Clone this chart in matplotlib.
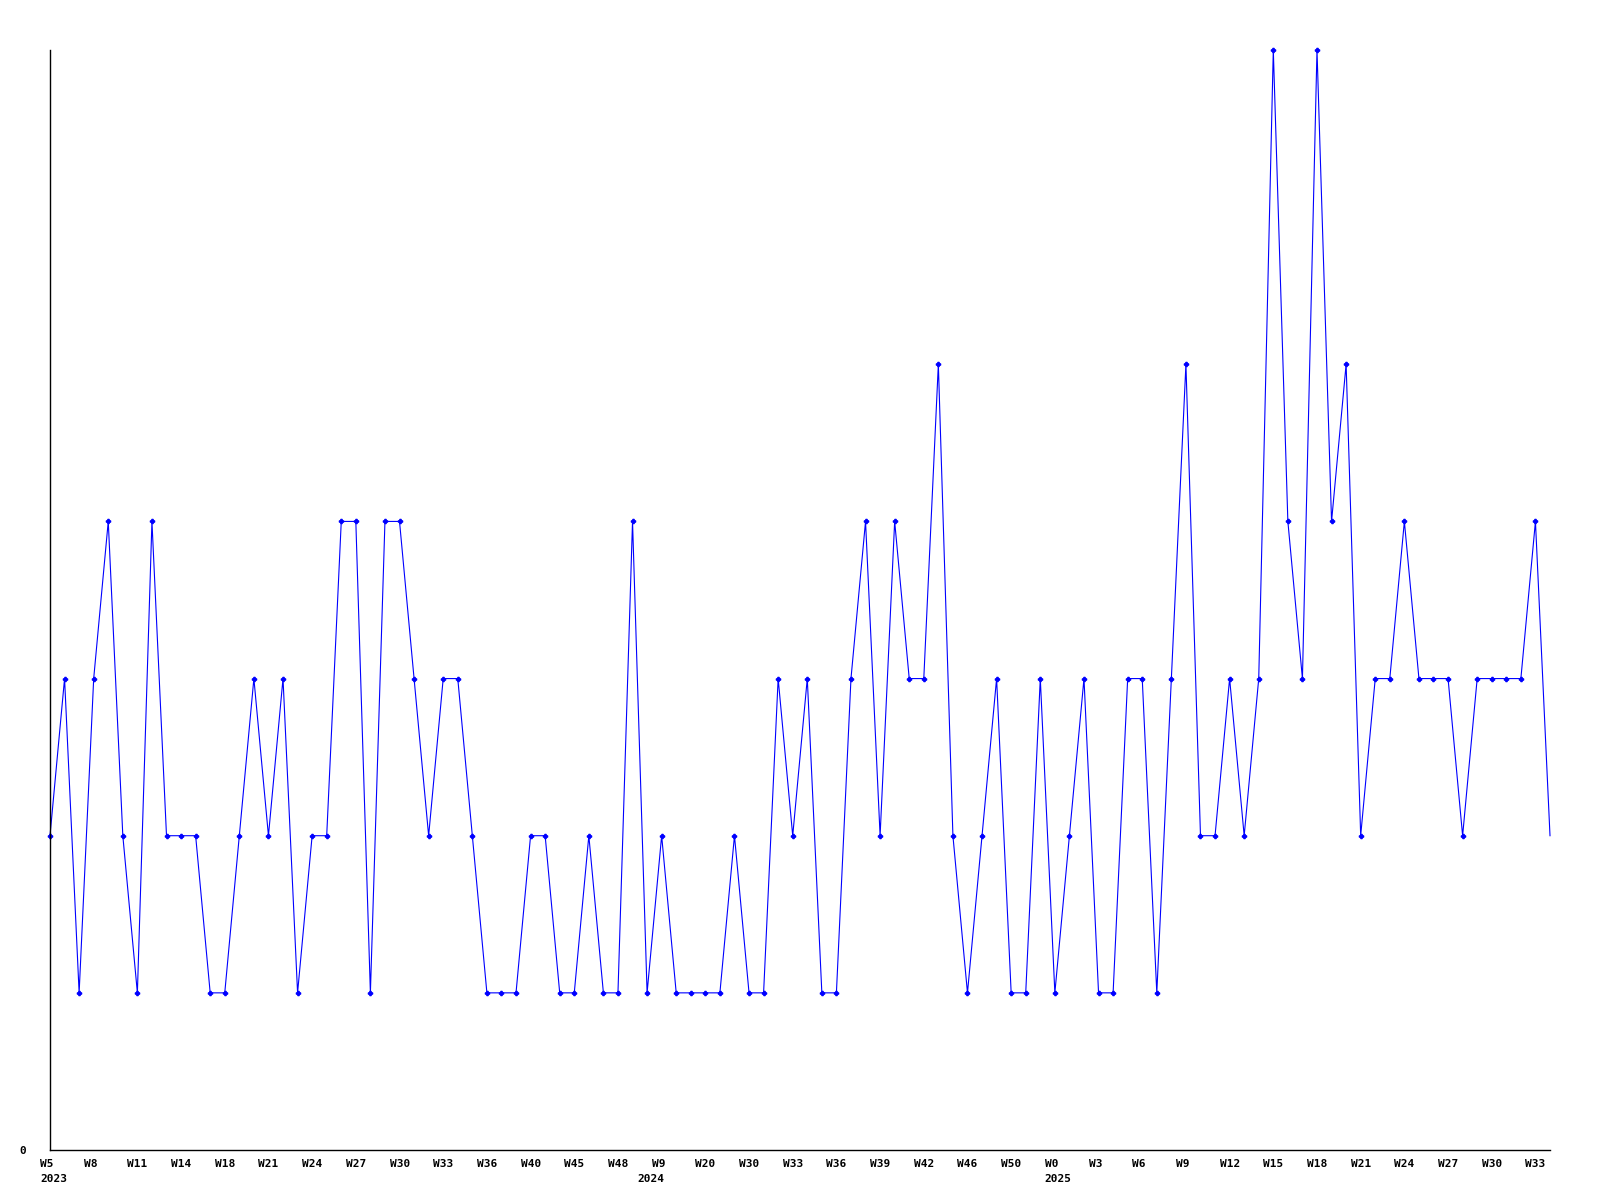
"""
plot.py — weekly count line chart (2023 W5 .. 2025 W33).
"""

import matplotlib
matplotlib.use("Agg")
import matplotlib.pyplot as plt
import matplotlib.transforms as mtransforms
import numpy as np

# ---------------------------------------------------------------------------
# Data
# ---------------------------------------------------------------------------

counts = [
    2, 3, 1, 3, 4, 2, 1, 4, 2, 2,
    2, 1, 1, 2, 3, 2, 3, 1, 2, 2,
    4, 4, 1, 4, 4, 3, 2, 3, 3, 2,
    1, 1, 1, 2, 2, 1, 1, 2, 1, 1,
    4, 1, 2, 1, 1, 1, 1, 2, 1, 1,
    3, 2, 3, 1, 1, 3, 4, 2, 4, 3,
    3, 5, 2, 1, 2, 3, 1, 1, 3, 1,
    2, 3, 1, 1, 3, 3, 1, 3, 5, 2,
    2, 3, 2, 3, 7, 4, 3, 7, 4, 5,
    2, 3, 3, 4, 3, 3, 3, 2, 3, 3,
    3, 3, 4, 2,
]

# one label on every third week
week_labels = [
    "W5", "W8", "W11", "W14", "W18", "W21", "W24", "W27", "W30", "W33",
    "W36", "W40", "W45", "W48", "W9", "W20", "W30", "W33", "W36", "W39",
    "W42", "W46", "W50", "W0", "W3", "W6", "W9", "W12", "W15", "W18",
    "W21", "W24", "W27", "W30", "W33",
]
label_step = 3

years = ["2023", "2024", "2025"]
year_start_index = [0, 41, 69]

# ---------------------------------------------------------------------------
# Plot
# ---------------------------------------------------------------------------

FONT = dict(family="DejaVu Sans Mono", fontweight="bold", fontsize=8)

fig = plt.figure(figsize=(16, 12), dpi=100)
ax = fig.add_axes([50 / 1600, 50 / 1200, 1500 / 1600, 1100 / 1200])

x = np.arange(len(counts))
ax.plot(x, counts, color="#0000ff", linewidth=0.8, marker="P", markersize=3,
        markevery=list(range(len(counts) - 1)), clip_on=False)

ax.set_xlim(0, len(counts) - 1)
ax.set_ylim(0, 7)

for side in ("top", "right"):
    ax.spines[side].set_visible(False)
for side in ("left", "bottom"):
    ax.spines[side].set_linewidth(1.0)
    ax.spines[side].set_color("black")

ax.set_xticks([])
ax.set_yticks([0])
ax.set_yticklabels(["0"], **FONT)
ax.tick_params(axis="y", length=0, pad=17)

# x labels: left-aligned, starting slightly left of the tick point
base = ax.get_xaxis_transform()
week_tr = base + mtransforms.ScaledTranslation(-10 / 100, -9 / 100, fig.dpi_scale_trans)
year_tr = base + mtransforms.ScaledTranslation(-10 / 100, -24 / 100, fig.dpi_scale_trans)

for i, lab in enumerate(week_labels):
    ax.text(i * label_step, 0, lab, transform=week_tr, ha="left", va="top",
            clip_on=False, **FONT)

for pos, yr in zip(year_start_index, years):
    ax.text(pos, 0, yr, transform=year_tr, ha="left", va="top",
            clip_on=False, **FONT)

fig.savefig("out.png", dpi=100)
